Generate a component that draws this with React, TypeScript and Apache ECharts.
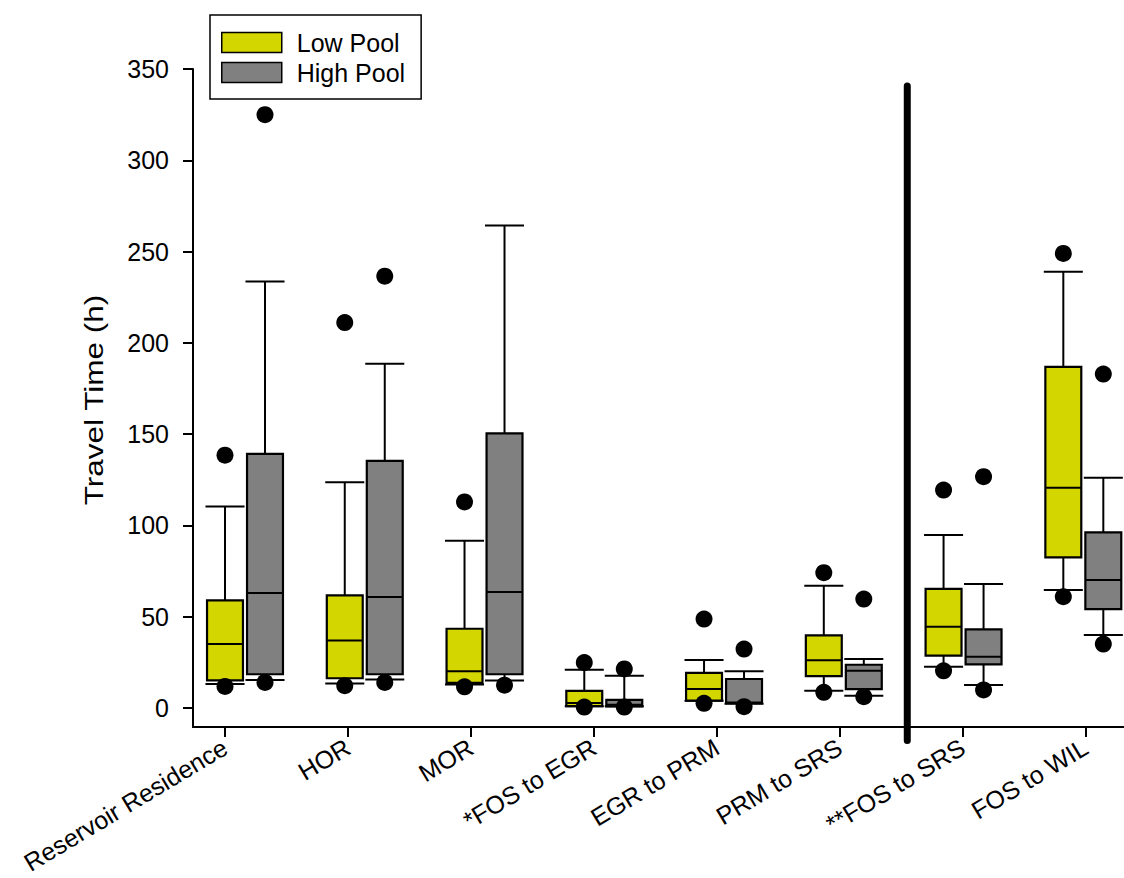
import React, { useEffect, useRef } from "react";
import * as echarts from "echarts";

// ---- data ----
const categories = [
  "Reservoir Residence",
  "HOR",
  "MOR",
  "*FOS to EGR",
  "EGR to PRM",
  "PRM to SRS",
  "**FOS to SRS",
  "FOS to WIL",
];
// [lower whisker, Q1, median, Q3, upper whisker]
const lowPoolStats = [
  [13.1, 15.1, 35.0, 59.0, 110.4],
  [13.4, 16.3, 37.0, 61.7, 123.6],
  [12.9, 13.8, 20.1, 43.4, 91.6],
  [1.0, 1.0, 2.7, 9.4, 20.9],
  [4.0, 4.0, 10.4, 19.2, 26.3],
  [9.5, 17.5, 26.1, 39.8, 67.0],
  [22.6, 28.7, 44.5, 65.2, 94.7],
  [64.6, 82.5, 120.7, 186.9, 238.9],
];
const highPoolStats = [
  [15.4, 18.5, 63.0, 139.2, 233.6],
  [15.6, 18.5, 60.8, 135.4, 188.6],
  [15.1, 18.5, 63.6, 150.4, 264.3],
  [0.9, 0.9, 1.8, 4.5, 17.7],
  [2.4, 2.7, 3.0, 15.9, 20.1],
  [6.7, 10.3, 20.4, 23.7, 26.8],
  [12.6, 23.9, 28.1, 43.1, 67.9],
  [40.0, 54.2, 70.1, 96.2, 126.1],
];
const lowPoolOutliers = [
  [138.5, 11.8],
  [211.1, 12.2],
  [112.9, 11.6],
  [24.9, 0.5],
  [48.7, 2.6],
  [74.1, 8.6],
  [119.4, 20.4],
  [249.0, 61.0],
];
const highPoolOutliers = [
  [325.0, 14.0],
  [236.5, 14.0],
  [12.5],
  [21.4, 0.5],
  [32.3, 0.7],
  [59.7, 6.2],
  [126.7, 9.9],
  [182.9, 35.0],
];
const yTicks = [0, 50, 100, 150, 200, 250, 300, 350];
const xTicks = [1, 2, 3, 4, 5, 6, 7, 8];

// ---- styling constants ----
const FONT = '"Liberation Sans", Arial, sans-serif';
const LOW_COLOR = "#d4d600";
const HIGH_COLOR = "#808080";
const OFFSET = 0.167; // half-distance between paired boxes (data-axis units)
const BOX_W = 0.3;
const CAP_W = 0.326;
const SEPARATOR_AT = 6.53;

const renderBox = (params: any, api: any) => {
  const x = api.value(0);
  const lo = api.coord([x, api.value(1)]);
  const q1 = api.coord([x, api.value(2)]);
  const med = api.coord([x, api.value(3)]);
  const q3 = api.coord([x, api.value(4)]);
  const hi = api.coord([x, api.value(5)]);
  const bw = api.size([BOX_W, 0])[0];
  const cw = api.size([CAP_W, 0])[0];
  const cx = lo[0];
  const fill = api.visual("color");
  const ln = { stroke: "#000", lineWidth: 2 };
  return {
    type: "group",
    children: [
      { type: "line", shape: { x1: cx, y1: hi[1], x2: cx, y2: lo[1] }, style: ln },
      { type: "line", shape: { x1: cx - cw / 2, y1: hi[1], x2: cx + cw / 2, y2: hi[1] }, style: ln },
      { type: "line", shape: { x1: cx - cw / 2, y1: lo[1], x2: cx + cw / 2, y2: lo[1] }, style: ln },
      {
        type: "rect",
        shape: { x: cx - bw / 2, y: q3[1], width: bw, height: q1[1] - q3[1] },
        style: { fill, stroke: "#000", lineWidth: 2.2 },
      },
      { type: "line", shape: { x1: cx - bw / 2, y1: med[1], x2: cx + bw / 2, y2: med[1] }, style: ln },
    ],
  };
};

export default function App() {
  const ref = useRef<HTMLDivElement>(null);
  useEffect(() => {
    if (!ref.current) return;
    const chart = echarts.init(ref.current, null, { renderer: "svg" });

    const lowData = lowPoolStats.map((s, i) => [i + 1 - OFFSET, ...s]);
    const highData = highPoolStats.map((s, i) => [i + 1 + OFFSET, ...s]);
    const lowOut: number[][] = [];
    lowPoolOutliers.forEach((arr, i) => arr.forEach((v) => lowOut.push([i + 1 - OFFSET, v])));
    const highOut: number[][] = [];
    highPoolOutliers.forEach((arr, i) => arr.forEach((v) => highOut.push([i + 1 + OFFSET, v])));

    chart.setOption({
      animation: false,
      backgroundColor: "#fff",
      textStyle: { fontFamily: FONT },
      grid: { left: 193, top: 69, width: 931, height: 658, containLabel: false },
      legend: {
        orient: "vertical",
        left: 210,
        top: 15,
        itemWidth: 60,
        itemHeight: 20,
        itemGap: 5,
        padding: [15, 16, 14, 11],
        borderColor: "#000",
        borderWidth: 1.5,
        selectedMode: false,
        textStyle: { fontSize: 25, color: "#000", fontFamily: FONT, padding: [0, 0, 0, 10] },
        data: [
          { name: "Low Pool", icon: "rect", itemStyle: { color: LOW_COLOR, borderColor: "#000", borderWidth: 1.5 } },
          { name: "High Pool", icon: "rect", itemStyle: { color: HIGH_COLOR, borderColor: "#000", borderWidth: 1.5 } },
        ],
      },
      xAxis: [
        {
          type: "value",
          min: 0.5658,
          max: 8.3397,
          show: false,
          splitLine: { show: false },
        },
        {
          type: "value",
          min: 0.7397,
          max: 8.3131,
          position: "bottom",
          splitLine: { show: false },
          axisLine: { show: true, onZero: false, lineStyle: { color: "#000", width: 2 } },
          axisTick: { show: true, length: 10, customValues: xTicks, lineStyle: { color: "#000", width: 2 } },
          axisLabel: {
            customValues: xTicks,
            formatter: (v: number) => categories[Math.round(v) - 1] ?? "",
            rotate: 31,
            fontSize: 25,
            color: "#000",
            fontFamily: FONT,
            margin: 18,
          },
        },
      ],
      yAxis: {
        type: "value",
        min: -10.4,
        max: 350,
        splitLine: { show: false },
        axisLine: { show: true, onZero: false, lineStyle: { color: "#000", width: 2 } },
        axisTick: { show: true, length: 10, customValues: yTicks, lineStyle: { color: "#000", width: 2 } },
        axisLabel: { customValues: yTicks, fontSize: 25, color: "#000", fontFamily: FONT, margin: 24 },
      },
      graphic: [
        {
          type: "text",
          x: 94,
          y: 400,
          rotation: Math.PI / 2,
          scaleX: 1.26,
          style: {
            text: "Travel Time (h)",
            fontSize: 25,
            fontFamily: FONT,
            fill: "#000",
            align: "center",
            verticalAlign: "middle",
          },
        },
      ],
      series: [
        {
          name: "Low Pool",
          type: "custom",
          xAxisIndex: 0,
          yAxisIndex: 0,
          itemStyle: { color: LOW_COLOR },
          renderItem: renderBox,
          encode: { x: 0, y: [1, 2, 3, 4, 5] },
          data: lowData,
          z: 2,
        },
        {
          name: "High Pool",
          type: "custom",
          xAxisIndex: 0,
          yAxisIndex: 0,
          itemStyle: { color: HIGH_COLOR },
          renderItem: renderBox,
          encode: { x: 0, y: [1, 2, 3, 4, 5] },
          data: highData,
          z: 2,
        },
        {
          name: "Low Pool outliers",
          type: "scatter",
          xAxisIndex: 0,
          yAxisIndex: 0,
          symbol: "circle",
          symbolSize: 17,
          itemStyle: { color: "#000", opacity: 1 },
          data: lowOut,
          z: 3,
        },
        {
          name: "High Pool outliers",
          type: "scatter",
          xAxisIndex: 0,
          yAxisIndex: 0,
          symbol: "circle",
          symbolSize: 17,
          itemStyle: { color: "#000", opacity: 1 },
          data: highOut,
          z: 3,
        },
        {
          name: "separator",
          type: "line",
          xAxisIndex: 0,
          yAxisIndex: 0,
          symbol: "none",
          clip: false,
          silent: true,
          lineStyle: { color: "#000", width: 7, cap: "round" },
          data: [
            [SEPARATOR_AT, 340.7],
            [SEPARATOR_AT, -17.8],
          ],
          z: 4,
        },
      ],
    });
    return () => chart.dispose();
  }, []);
  return (
    <div
      ref={ref}
      style={{ position: "fixed", left: 0, top: 0, width: 1124, height: 878, background: "#fff" }}
    />
  );
}
